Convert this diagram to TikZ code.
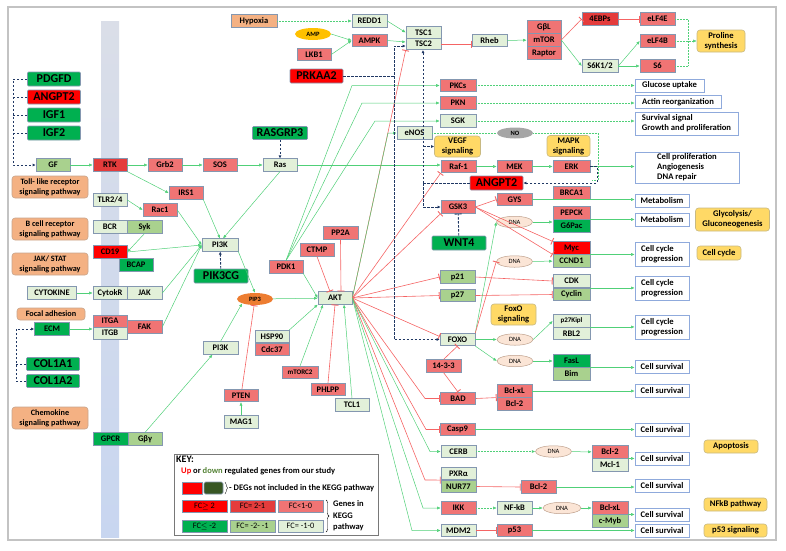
\documentclass[tikz,border=0pt]{standalone}
\usepackage{fontspec}
\setmainfont{Carlito}
\usetikzlibrary{arrows.meta,shapes.geometric,decorations.pathreplacing}

\definecolor{fcuphi}{RGB}{255,0,0}
\definecolor{fcupmid}{RGB}{228,60,60}
\definecolor{fcuplow}{RGB}{240,116,116}
\definecolor{fcdnhi}{RGB}{0,176,80}
\definecolor{fcdnmid}{RGB}{169,209,142}
\definecolor{fcdnlow}{RGB}{226,240,217}
\definecolor{degdark}{RGB}{55,86,35}
\definecolor{downolive}{RGB}{84,130,53}
\definecolor{genebd}{RGB}{132,151,176}
\definecolor{outbd}{RGB}{143,170,220}
\definecolor{pathfill}{RGB}{255,217,102}
\definecolor{pathbd}{RGB}{200,185,130}
\definecolor{sigfill}{RGB}{244,177,131}
\definecolor{sigbd}{RGB}{200,165,140}
\definecolor{dnafill}{RGB}{251,229,214}
\definecolor{dnabd}{RGB}{190,160,140}
\definecolor{nogray}{RGB}{166,166,166}
\definecolor{ampyellow}{RGB}{255,192,0}
\definecolor{piporange}{RGB}{237,125,49}
\definecolor{actgreen}{RGB}{80,208,120}
\definecolor{inhred}{RGB}{245,100,100}
\definecolor{regnavy}{RGB}{32,56,100}
\definecolor{framegray}{RGB}{195,195,195}
\definecolor{membtop}{RGB}{218,222,232}
\definecolor{membmid}{RGB}{180,198,231}
\definecolor{membbot}{RGB}{200,214,240}
\definecolor{keybd}{RGB}{120,120,120}

\tikzset{
  gene/.style={draw=genebd, line width=0.6pt, inner sep=0pt, minimum width=34pt, minimum height=12.5pt, font=\fontsize{8.5}{9}\selectfont\bfseries},
  uphi/.style={gene, fill=fcuphi},
  upmid/.style={gene, fill=fcupmid},
  uplow/.style={gene, fill=fcuplow},
  dnhi/.style={gene, fill=fcdnhi},
  dnmid/.style={gene, fill=fcdnmid},
  dnlow/.style={gene, fill=fcdnlow},
  deg/.style={draw=genebd, line width=0.6pt, inner sep=0pt, minimum width=53pt, minimum height=14pt, rounded corners=1pt, font=\fontsize{12}{12}\selectfont\bfseries},
  degup/.style={deg, fill=fcuphi},
  degdn/.style={deg, fill=fcdnhi},
  outbox/.style={draw=outbd, line width=0.7pt, fill=white, inner sep=0pt, minimum width=54pt, minimum height=13pt, align=left, font=\fontsize{8.6}{10}\selectfont\bfseries},
  pathbox/.style={draw=pathbd, line width=0.6pt, fill=pathfill, rounded corners=3pt, inner sep=0pt, align=center, font=\fontsize{8.6}{10}\selectfont\bfseries},
  sigbox/.style={draw=sigbd, line width=0.6pt, fill=sigfill, rounded corners=3pt, inner sep=0pt, minimum width=76pt, minimum height=22pt, align=center, font=\fontsize{8.2}{10}\selectfont\bfseries},
  dna/.style={ellipse, draw=dnabd, line width=0.5pt, fill=dnafill, inner sep=0pt, minimum width=36pt, minimum height=11.5pt, font=\fontsize{6.5}{6.5}\selectfont},
  oval/.style={ellipse, draw=none, inner sep=0pt, minimum width=36pt, minimum height=12pt, font=\fontsize{6.5}{6.5}\selectfont\bfseries},
  act/.style={draw=actgreen, line width=0.5pt, -{Latex[length=3.5pt,width=3pt]}},
  actdot/.style={act, densely dotted},
  inh/.style={draw=inhred, line width=0.6pt, -{Bar[width=7pt,line width=0.9pt]}},
  regline/.style={draw=regnavy, line width=0.9pt, dash pattern=on 2.5pt off 1.5pt},
  regarrow/.style={regline, -{Latex[length=3pt,width=3pt]}},
  swatch/.style={gene, minimum width=45pt, minimum height=12pt, font=\fontsize{8.3}{9}\selectfont},
  keytext/.style={anchor=west, inner sep=0pt, font=\fontsize{8.5}{9.5}\selectfont\bfseries}
}

\begin{document}
\begin{tikzpicture}[x=1pt, y=-1pt]
  \useasboundingbox (0,0) rectangle (786,550);

  \draw[framegray, line width=1.3pt] (8,7) rectangle (776,540);
  \shade[top color=membtop, middle color=membmid, bottom color=membbot] (101,21) rectangle (119,537);

  % receptors and ligands
  \node[degdn] (pdgfd) at (54,79) {PDGFD};
  \node[degup] (angpt2a) at (54,97) {ANGPT2};
  \node[degdn] (igf1) at (54,115) {IGF1};
  \node[degdn] (igf2) at (54,133) {IGF2};
  \node[dnmid] (gf) at (53,165) {GF};
  \node[upmid] (rtk) at (110,165) {RTK};
  \node[uplow] (grb2) at (165,165) {Grb2};
  \node[uplow] (sos) at (220,165) {SOS};
  \node[dnlow] (ras) at (280,165) {Ras};
  \node[degdn, minimum width=55pt, minimum height=13pt] (rasgrp3) at (280,133) {RASGRP3};
  \node[uplow] (irs1) at (186,193) {IRS1};
  \node[dnlow] (tlr) at (110,200) {TLR2/4};
  \node[uplow] (rac1) at (160,210) {Rac1};
  \node[dnlow] (bcr) at (110,227) {BCR};
  \node[dnmid, minimum width=35pt] (syk) at (144.5,227) {Syk};
  \node[uphi] (cd19) at (110,252) {CD19};
  \node[dnhi] (bcap) at (136,265) {BCAP};
  \node[dnlow, minimum width=49pt] (cytokine) at (52,293) {CYTOKINE};
  \node[dnlow] (cytokr) at (110,293) {CytokR};
  \node[dnlow, minimum width=35pt] (jak) at (144.5,293) {JAK};
  \node[uplow, minimum height=12pt] (itga) at (110,321) {ITGA};
  \node[dnlow, minimum height=12pt] (itgb) at (110,333) {ITGB};
  \node[uplow, minimum width=35pt, minimum height=13pt] (fak) at (144.5,327) {FAK};
  \node[dnhi, minimum width=35pt] (ecm) at (52,329) {ECM};
  \node[degdn, minimum height=13pt] (col1a1) at (53,364) {COL1A1};
  \node[degdn, minimum height=13pt] (col1a2) at (53,381) {COL1A2};
  \node[dnhi, minimum width=35pt] (gpcr) at (110.5,439) {GPCR};
  \node[dnmid] (gbg) at (145,439) {Gβγ};

  \node[sigbox] (tollpath) at (50,187) {Toll- like receptor\\signaling pathway};
  \node[sigbox] (bcellpath) at (50,229) {B cell receptor\\signaling pathway};
  \node[sigbox] (jakpath) at (50,264) {JAK/ STAT\\signaling pathway};
  \node[sigbox, minimum width=68pt, minimum height=12pt] (focalpath) at (51,314) {Focal adhesion};
  \node[sigbox] (chemopath) at (50,418) {Chemokine\\signaling pathway};

  % PI3K / AKT core
  \node[dnlow, minimum width=36pt] (pi3ka) at (220,245) {PI3K};
  \node[degdn, minimum width=54pt] (pik3cg) at (221,276) {PIK3CG};
  \node[oval, fill=piporange] (pip3) at (255,299) {PIP3};
  \node[dnlow, minimum width=35pt] (pi3kb) at (220.5,348) {PI3K};
  \node[dnlow] (akt) at (335,298) {AKT};
  \node[uplow] (pdk1) at (286,267) {PDK1};
  \node[uplow] (ctmp) at (317,250) {CTMP};
  \node[uplow, minimum width=35pt] (pp2a) at (340.5,233) {PP2A};
  \node[dnlow] (hsp90) at (272,336.5) {HSP90};
  \node[uplow] (cdc37) at (272,349.5) {Cdc37};
  \node[uplow, minimum width=36pt, font=\fontsize{7}{7}\selectfont\bfseries] (mtorc2) at (300,372.5) {mTORC2};
  \node[uplow] (phlpp) at (328,389.5) {PHLPP};
  \node[dnlow] (tcl1) at (352,405) {TCL1};
  \node[uplow] (pten) at (241,395.5) {PTEN};
  \node[dnlow] (mag1) at (241,422) {MAG1};

  % mTOR branch
  \node[gene, fill=sigfill, minimum width=46pt] (hypoxia) at (254,21) {Hypoxia};
  \node[dnlow, minimum width=35pt] (redd1) at (369.5,21) {REDD1};
  \node[oval, fill=ampyellow] (amp) at (313,34) {AMP};
  \node[uplow, minimum width=35pt] (ampk) at (369.5,40.5) {AMPK};
  \node[uplow] (lkb1) at (314,54.5) {LKB1};
  \node[degup] (prkaa2) at (316.5,76) {PRKAA2};
  \node[dnlow, minimum width=35pt, minimum height=11.5pt] (tsc1) at (423.5,32.5) {TSC1};
  \node[dnlow, minimum width=35pt, minimum height=11.5pt] (tsc2) at (423.5,44) {TSC2};
  \node[dnlow, minimum width=35pt] (rheb) at (489.5,40.5) {Rheb};
  \node[uplow, minimum height=13pt] (gbl) at (544,27) {GβL};
  \node[uplow, minimum height=13pt] (mtor) at (544,40) {mTOR};
  \node[uplow, minimum height=13pt] (raptor) at (544,53) {Raptor};
  \node[upmid, minimum width=36pt] (ebps) at (600,19) {4EBPs};
  \node[dnlow, minimum width=36pt] (s6k) at (600,66) {S6K1/2};
  \node[uplow, minimum width=35pt] (elf4e) at (657.5,19) {eLF4E};
  \node[uplow, minimum width=35pt] (elf4b) at (657.5,41) {eLF4B};
  \node[uplow, minimum width=35pt] (s6) at (657.5,66) {S6};
  \node[pathbox, minimum width=48pt, minimum height=22pt] (proline) at (721,41) {Proline\\synthesis};

  \node[uplow, minimum width=36pt] (pkcs) at (458,85.5) {PKCs};
  \node[uplow, minimum width=36pt] (pkn) at (458,103) {PKN};
  \node[dnlow, minimum width=36pt] (sgk) at (458,121) {SGK};
  \node[dnlow, minimum width=35pt] (enos) at (414.5,133) {eNOS};
  \node[oval, fill=nogray, minimum height=11pt] (no) at (515,133) {NO};
  \node[pathbox, minimum width=46pt, minimum height=21pt] (vegfpath) at (457.5,146.5) {VEGF\\signaling};
  \node[pathbox, minimum width=43pt, minimum height=21pt] (mapkpath) at (568.5,146) {MAPK\\signaling};
  \node[uplow, minimum width=35pt] (raf1) at (458.5,166.5) {Raf-1};
  \node[uplow, minimum width=35pt] (mek) at (514.5,166.5) {MEK};
  \node[uplow, minimum width=37pt] (erk) at (571.5,166.5) {ERK};
  \node[degup] (angpt2b) at (496.5,183) {ANGPT2};

  % AKT targets
  \node[uplow] (gsk3) at (458,207) {GSK3};
  \node[uplow, minimum width=35pt] (gys) at (514.5,199.5) {GYS};
  \node[uplow, minimum width=37pt] (brca1) at (571.5,193) {BRCA1};
  \node[degdn, minimum width=54pt] (wnt4) at (459,243) {WNT4};
  \node[dna] (dnaa) at (514.5,222) {DNA};
  \node[uplow, minimum width=37pt] (pepck) at (571.5,213) {PEPCK};
  \node[dnhi, minimum width=37pt] (g6pac) at (571.5,226) {G6Pac};
  \node[uphi, minimum width=37pt] (myc) at (571.5,248) {Myc};
  \node[dnmid, minimum width=37pt] (ccnd1) at (571.5,261) {CCND1};
  \node[dna] (dnab) at (514.5,261.5) {DNA};
  \node[dnmid, minimum width=35pt] (p21) at (457.5,277) {p21};
  \node[dnmid, minimum width=35pt] (p27) at (457.5,295.5) {p27};
  \node[dnlow, minimum width=37pt] (cdk) at (571.5,281) {CDK};
  \node[dnmid, minimum width=37pt] (cyclin) at (571.5,294.5) {Cyclin};
  \node[pathbox, minimum width=45pt, minimum height=21pt] (foxopath) at (513.5,314.5) {FoxO\\signaling};
  \node[dnlow, minimum width=35pt] (foxo) at (457.5,339.5) {FOXO};
  \node[dnlow, minimum width=37pt, font=\fontsize{7}{7}\selectfont\bfseries] (p27kip) at (571.5,321) {p27Kipl};
  \node[dnlow, minimum width=37pt] (rbl2) at (571.5,333.5) {RBL2};
  \node[dna] (dnac) at (515,339.5) {DNA};
  \node[dna] (dnad) at (515,361) {DNA};
  \node[dnhi, minimum width=37pt] (fasl) at (571.5,361) {FasL};
  \node[dnmid, minimum width=37pt] (bim) at (571.5,374) {Bim};
  \node[uplow, minimum width=35pt] (p1433) at (443.5,366) {14-3-3};
  \node[uplow, minimum width=35pt] (bad) at (458,398.5) {BAD};
  \node[uplow, minimum width=35pt] (bclxl) at (514.5,391) {Bcl-xL};
  \node[uplow, minimum width=35pt] (bcl2a) at (514.5,404) {Bcl-2};
  \node[uplow, minimum width=35pt] (casp9) at (457.5,429.5) {Casp9};
  \node[dnlow, minimum width=35pt] (cerb) at (458.5,451.5) {CERB};
  \node[dna] (dnae) at (553.5,451.5) {DNA};
  \node[uplow, minimum width=36pt] (bcl2b) at (610,452) {Bcl-2};
  \node[dnlow, minimum width=36pt] (mcl1) at (610,465) {Mcl-1};
  \node[dnlow, minimum width=35pt] (pxra) at (458.5,473.5) {PXRα};
  \node[dnmid, minimum width=35pt] (nur77) at (458.5,486.5) {NUR77};
  \node[uplow, minimum width=35pt] (bcl2c) at (538.5,487) {Bcl-2};
  \node[uplow, minimum width=35pt] (ikk) at (458.5,508) {IKK};
  \node[dnlow, minimum width=35pt] (nfkb) at (514.5,508) {NF-kB};
  \node[dna, minimum width=38pt] (dnaf) at (562,508) {DNA};
  \node[uplow, minimum width=36pt] (bclxlb) at (610,508) {Bcl-xL};
  \node[dnmid, minimum width=36pt] (cmyb) at (610,521) {c-Myb};
  \node[dnlow, minimum width=35pt] (mdm2) at (458.5,530.5) {MDM2};
  \node[uplow, minimum width=35pt] (p53) at (514.5,530.5) {p53};

  % outcomes
  \node[outbox, minimum width=69pt] (glucose) at (669.5,85.5) {Glucose uptake};
  \node[outbox, minimum width=86pt] (actin) at (678,102) {Actin reorganization};
  \node[outbox, minimum width=103pt, minimum height=23pt] (survsig) at (686.5,123.5) {Survival signal\\Growth and proliferation};
  \node[outbox, minimum width=104pt, minimum height=31pt] (cellprol) at (687,167.5) {Cell proliferation\\Angiogenesis\\DNA repair};
  \node[outbox] (metab1) at (662,200.5) {Metabolism};
  \node[outbox] (metab2) at (662,219.5) {Metabolism};
  \node[outbox, minimum height=24pt] (ccp1) at (662,254) {Cell cycle\\progression};
  \node[outbox, minimum height=24pt] (ccp2) at (662,288) {Cell cycle\\progression};
  \node[outbox, minimum height=24pt] (ccp3) at (662,327.5) {Cell cycle\\progression};
  \node[outbox] (surv1) at (662,366.5) {Cell survival};
  \node[outbox] (surv2) at (662,390.5) {Cell survival};
  \node[outbox] (surv3) at (662,429.5) {Cell survival};
  \node[outbox] (surv4) at (662,459) {Cell survival};
  \node[outbox] (surv5) at (662,486) {Cell survival};
  \node[outbox] (surv6) at (662,514.5) {Cell survival};
  \node[outbox] (surv7) at (662,530.5) {Cell survival};

  \node[pathbox, minimum width=74pt, minimum height=23pt] (glyco) at (732.5,219.5) {Glycolysis/\\Gluconeogenesis};
  \node[pathbox, minimum width=44pt, minimum height=14pt] (cellcyc) at (719,253) {Cell cycle};
  \node[pathbox, minimum width=54pt, minimum height=13pt] (apop) at (731,446.5) {Apoptosis};
  \node[pathbox, minimum width=63pt, minimum height=13pt] (nfkbpath) at (735.5,504.5) {NFkB pathway};
  \node[pathbox, minimum width=63pt, minimum height=13pt] (p53path) at (735.5,530.5) {p53 signaling};

  % connectors, left part
  \draw[regarrow] (pdgfd.west) -| (13,165) -- (gf.west);
  \foreach \g/\yy in {angpt2a/97, igf1/115, igf2/133}
    \draw[regline] (\g.west) -- (13,\yy);
  \draw[regarrow] (col1a2.west) -| (16,329) -- (ecm.west);
  \draw[regline] (col1a1.west) -- (16,364);

  \draw[act] (gf) -- (rtk);
  \draw[act] (rtk) -- (grb2);
  \draw[act] (grb2) -- (sos);
  \draw[act] (sos) -- (ras);
  \draw[act] (ras.east) -- (ras.east -| raf1.west);
  \draw[regarrow] (rasgrp3) -- (ras);
  \draw[act] (rtk.south east) -- (irs1.west);
  \draw[act] (irs1.south east) -- (pi3ka.north);
  \draw[act] (ras.south) -- ([xshift=3pt]pi3ka.north);
  \draw[act] (tlr.east) -- (rac1.west);
  \draw[act] (syk.south) -- (cd19.east);
  \foreach \s in {rac1, cd19, jak, fak}
    \draw[act] (\s.east) -- (pi3ka.west);
  \draw[act] (cytokine) -- (cytokr);
  \draw[act] (ecm.east) -- (ecm.east -| itgb.west);
  \draw[act] (gbg.north) -- ([xshift=-8pt]pi3kb.south);

  \draw[regarrow] (pik3cg) -- (pi3ka);
  \draw[act] (pi3ka.south east) -- (pip3.north);
  \draw[act] (pi3kb.north) -- (pip3.south west);
  \draw[act] (pip3) -- (akt);
  \draw[inh] (pten) -- (pip3);
  \draw[act] (mag1) -- (pten);
  \draw[act] (pdk1.south east) -- (akt.west);
  \draw[act] (pdk1.north) -- (352,85.5) -- (pkcs.west);
  \draw[act] (pdk1.north) -- (362,103) -- (pkn.west);
  \draw[act] (pdk1.north) -- (375,121) -- (sgk.west);
  \draw[inh] (ctmp.south) -- ([xshift=-5pt]akt.north);
  \draw[inh] (pp2a.south) -- ([xshift=6pt]akt.north);
  \draw[act] (hsp90.north east) -- (akt.south west);
  \draw[act] (mtorc2.north) -- ([xshift=-12pt]akt.south);
  \draw[inh] (phlpp.north) -- (akt.south);
  \draw[act] (tcl1.north) -- ([xshift=9pt]akt.south);

  % AKT outputs
  \draw[inh] (akt.east) -- (tsc2.south west);
  \draw[act] (akt.east) -- (388,133) -- (enos.west);
  \draw[inh] (akt.east) -- (raf1.south west);
  \draw[inh] (akt.east) -- (gsk3.south west);
  \draw[inh] (akt.east) -- (p21.west);
  \draw[inh] (akt.east) -- (p27.west);
  \draw[inh] (akt.east) -- ([yshift=3pt]foxo.west);
  \draw[inh] (akt.east) -- (425,398.5) -- (bad.west);
  \draw[inh] (akt.east) -- (426,429.5) -- (casp9.west);
  \draw[act] (akt.east) -- (430,451.5) -- (cerb.west);
  \draw[inh] (akt.east) -- (425,480) -- (pxra.south west);
  \draw[act] (akt.east) -- (423,508) -- (ikk.west);
  \draw[act] (akt.east) -- (412,530.5) -- (mdm2.west);

  % top part
  \draw[actdot] (hypoxia) -- (redd1);
  \draw[act] (amp.east) -- (ampk.west);
  \draw[act] (lkb1.east) -- (ampk.west);
  \draw[act] (redd1.east) -- (tsc1.west);
  \draw[act] (ampk.east) -- ([yshift=2pt]tsc2.west);
  \draw[regarrow] (prkaa2.east) -| (394,46) -- ([yshift=-2pt]tsc2.west);
  \draw[regarrow] (394,76) |- (foxo.west);
  \draw[inh] (tsc2.east) -- (tsc2.east -| rheb.west);
  \draw[act] (rheb) -- (mtor);
  \draw[inh] (mtor.east) -- (ebps.west);
  \draw[act] (mtor.east) -- (s6k.west);
  \draw[inh] (ebps) -- (elf4e);
  \draw[act] (s6k.east) -- (elf4b.west);
  \draw[act] (s6k) -- (s6);
  \draw[actdot, -] (elf4e.east) -- (688,19) -- (688,66) -- (s6.east);
  \draw[actdot] (elf4b.east) -- (proline.west);

  \draw[actdot] (pkcs) -- (pkcs -| glucose.west);
  \draw[actdot] (pkn) -- (pkn -| actin.west);
  \draw[actdot] (sgk) -- (sgk -| survsig.west);
  \draw[actdot, -] (enos) -- (no);
  \draw[actdot, -] (no.east) -- (598,133) -- (598,180) -- (592,180);
  \draw[act] (raf1) -- (mek);
  \draw[act] (mek) -- (erk);
  \draw[act] (erk.east) -- (erk.east -| cellprol.west);
  \draw[regarrow] (erk.east) -- (597,166.5) |- (angpt2b.east);
  \draw[regline] (angpt2b.west) -- (423,183);
  \draw[regarrow] (423,183) -- (423,50);
  \draw[regarrow] (423,146.5) -- (vegfpath.west);
  \draw[regarrow] (423,183) |- (gsk3.west);
  \draw[regline, -{Bar[width=7pt]}] (wnt4) -- (gsk3);

  % right part
  \draw[inh] (gsk3.east) -- (gys.west);
  \draw[inh] (gsk3.east) -- (myc.north west);
  \draw[inh] (gsk3.east) -- (ccnd1.north west);
  \draw[act] (gys) -- (gys -| metab1.west);
  \draw[act] (dnaa) -- (dnaa -| g6pac.west);
  \draw[act] (g6pac.north east) -- (g6pac.north east -| metab2.west);
  \draw[act] (ccnd1.north east) -- (ccnd1.north east -| ccp1.west);
  \draw[act] (dnab) -- (ccnd1);
  \draw[inh] (p21.east) -- (cdk.west);
  \draw[inh] (p27.east) -- (cyclin.west);
  \draw[act] (cyclin.north east) -- (cyclin.north east -| ccp2.west);
  \draw[act] (foxo.north east) -- (dnaa.west);
  \draw[inh] (foxo.north east) -- (dnab.west);
  \draw[act] (foxo) -- (dnac);
  \draw[act] (dnac.east) -- (p27kip.west);
  \draw[act] (foxo.south east) -- (dnad.west);
  \draw[act] (dnad) -- (fasl);
  \draw[act] (rbl2.north east) -- (rbl2.north east -| ccp3.west);
  \draw[act] (bim.north east) -- (bim.north east -| surv1.west);
  \draw[inh] (p1433.north) -- (foxo.south);
  \draw[inh] (p1433.south) -- (bad.north);
  \draw[inh] (bad.east) -- (bclxl.south west);
  \draw[act] (bclxl) -- (bclxl -| surv2.west);
  \draw[act] (casp9) -- (casp9 -| surv3.west);
  \draw[actdot] (cerb) -- (dnae);
  \draw[act] (dnae) -- (bcl2b);
  \draw[act] (mcl1.north east) -- (mcl1.north east -| surv4.west);
  \draw[inh] (nur77.east) -- (bcl2c.west);
  \draw[act] (bcl2c) -- (bcl2c -| surv5.west);
  \draw[actdot] (ikk) -- (nfkb);
  \draw[act] (nfkb) -- (dnaf);
  \draw[act] (dnaf) -- (bclxlb);
  \draw[act] (cmyb.north east) -- (cmyb.north east -| surv6.west);
  \draw[inh] (mdm2) -- (p53);
  \draw[act] (p53) -- (p53 -| surv7.west);

  % key
  \draw[keybd, line width=0.8pt] (174,454) rectangle (378,535);
  \node[anchor=north west, inner sep=0pt, font=\fontsize{10}{10}\selectfont\bfseries] (keyhead) at (176,456) {KEY:};
  \node[keytext] (keynote) at (181,471) {\textcolor{fcuphi}{Up} or \textcolor{downolive}{down} regulated genes from our study};
  \node[gene, fill=fcuphi, minimum width=20pt, minimum height=12pt] (swup) at (192,488) {};
  \node[gene, fill=degdark, minimum width=19pt, minimum height=12pt, rounded corners=1.5pt] (swdn) at (213.5,488) {};
  \draw[decorate, decoration={brace, amplitude=2.5pt}] (225,482) -- (225,494);
  \node[keytext] (degnote) at (229,488) {- DEGs not included in the KEGG pathway};
  \node[swatch, fill=fcuphi] (swa) at (204.5,506) {FC$\geq$ 2};
  \node[swatch, fill=fcupmid] (swb) at (252.5,506) {FC= 2-1};
  \node[swatch, fill=fcuplow] (swc) at (300.5,506) {FC<1-0};
  \node[swatch, fill=fcdnhi] (swd) at (204.5,526) {FC$\leq$ -2};
  \node[swatch, fill=fcdnmid] (swe) at (252.5,526) {FC= -2- -1};
  \node[swatch, fill=fcdnlow] (swf) at (300.5,526) {FC= -1-0};
  \draw[decorate, decoration={brace, amplitude=3pt}] (326,500) -- (326,532);
  \node[keytext, align=left, font=\fontsize{8.5}{11.5}\selectfont\bfseries] (keggnote) at (333,516) {Genes in\\KEGG\\pathway};
\end{tikzpicture}
\end{document}
